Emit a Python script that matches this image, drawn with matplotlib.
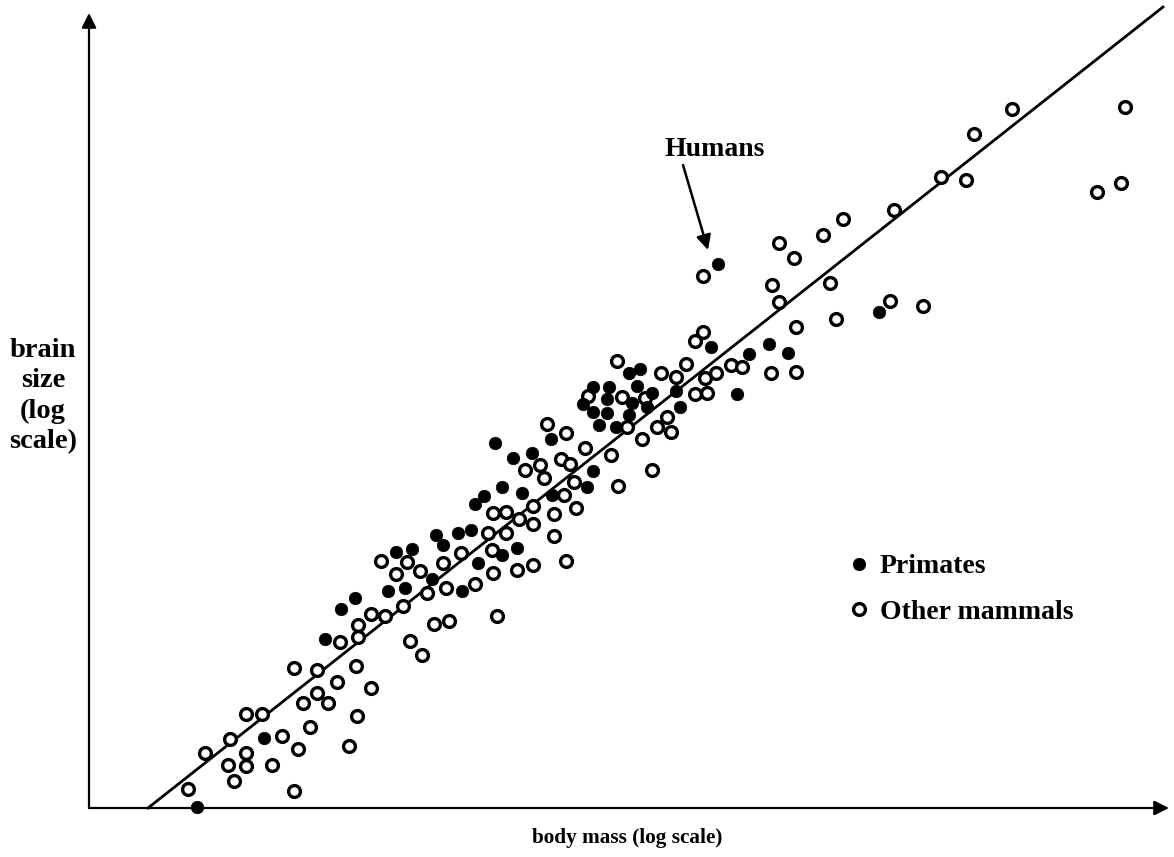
import matplotlib
matplotlib.use("Agg")
from matplotlib import pyplot as plt

plt.rcParams['font.family'] = ['Liberation Serif', 'DejaVu Serif']

# log body mass / log brain size, arbitrary units
primate_x = [1.08, 1.75, 2.36, 2.52, 2.66, 2.99, 3.16, 3.07, 3.23, 3.43, 3.47, 3.54, 3.69,
             3.82, 3.73, 3.86, 3.95, 3.89, 4.13, 4.28, 4.06, 4.13, 4.24, 4.33, 4.43, 4.62,
             4.63, 4.98, 5.04, 5.10, 4.94, 5.04, 5.04, 5.18, 5.18, 5.20, 5.27, 5.40, 5.40,
             5.43, 5.48, 5.51, 5.58, 5.63, 5.87, 5.91, 6.22, 6.29, 6.48, 6.60, 6.80, 6.99,
             7.90]
primate_y = [0.01, 0.70, 1.69, 1.99, 2.10, 2.17, 2.20, 2.56, 2.59, 2.29, 2.73, 2.63, 2.75,
             2.78, 2.17, 3.04, 3.12, 2.45, 2.53, 2.60, 3.65, 3.21, 3.50, 3.15, 3.55, 3.69,
             3.13, 3.21, 3.37, 3.83, 4.04, 4.21, 3.96, 4.09, 3.95, 4.21, 3.81, 4.35, 3.93,
             4.05, 4.22, 4.39, 4.01, 4.15, 4.17, 4.01, 4.61, 5.44, 4.14, 4.54, 4.64, 4.55,
             4.96]

other_x = [0.99, 1.16, 1.41, 1.39, 1.45, 1.57, 1.57, 1.57, 1.73, 1.83, 1.93, 2.05, 2.05,
           2.09, 2.21, 2.28, 2.28, 2.14, 2.39, 2.48, 2.60, 2.67, 2.68, 2.82, 2.51, 2.69,
           2.69, 2.82, 2.96, 3.14, 2.92, 3.18, 3.07, 3.31, 3.38, 3.21, 3.33, 3.45, 3.60,
           3.57, 3.54, 3.72, 3.86, 4.04, 4.03, 3.99, 4.17, 4.08, 4.28, 4.44, 4.77, 4.04,
           4.17, 4.30, 4.44, 4.44, 4.65, 4.65, 4.87, 4.75, 4.85, 4.36, 4.51, 4.55, 4.72,
           4.81, 4.96, 4.58, 4.77, 5.22, 5.29, 5.63, 5.53, 5.38, 5.68, 5.82, 5.78, 4.99,
           5.33, 5.56, 5.28, 5.72, 5.87, 5.97, 6.06, 6.18, 6.16, 6.27, 6.42, 6.53, 6.82,
           7.07, 6.06, 6.14, 6.14, 6.90, 7.05, 7.34, 6.83, 7.41, 6.90, 7.47, 7.07, 7.54,
           8.05, 8.01, 8.34, 8.52, 8.77, 8.85, 9.23, 10.36, 10.32, 10.08]
other_y = [0.19, 0.55, 0.69, 0.43, 0.27, 0.94, 0.55, 0.42, 0.94, 0.43, 0.72, 1.40, 0.17,
           0.59, 0.81, 1.38, 1.15, 1.05, 1.05, 1.26, 0.62, 1.42, 0.92, 1.20, 1.66, 1.83,
           1.71, 1.94, 1.92, 2.02, 2.47, 2.46, 2.34, 2.37, 2.15, 1.67, 1.53, 1.84, 1.87,
           2.20, 2.45, 2.55, 2.24, 2.35, 2.58, 2.75, 2.75, 1.92, 2.38, 2.43, 2.47, 2.95,
           2.96, 2.89, 3.02, 2.84, 2.94, 2.72, 3.00, 3.13, 3.26, 3.38, 3.43, 3.30, 3.49,
           3.44, 3.60, 3.84, 3.75, 3.53, 3.22, 3.38, 3.69, 3.81, 3.81, 3.76, 3.91, 4.12,
           4.11, 4.10, 4.47, 4.35, 4.31, 4.44, 4.14, 4.15, 4.30, 4.35, 4.43, 4.41, 4.35,
           4.36, 4.67, 4.76, 5.32, 5.65, 5.50, 5.73, 5.23, 5.25, 5.06, 4.89, 4.81, 5.89,
           5.98, 5.07, 5.02, 6.31, 6.28, 6.74, 6.99, 7.01, 6.25, 6.16]

fit_x = [0.59, 10.74]
fit_y = [0.00, 8.01]

humans_tip = (6.19, 5.58)
humans_tail = (5.94, 6.43)
humans_label = (6.26, 6.58)

fig = plt.figure(figsize=(11.74, 8.57), dpi=100)
ax = fig.add_axes([89 / 1174, 49 / 857, 1080 / 1174, 795 / 857])
ax.set_xlim(0, 10.80)
ax.set_ylim(0, 7.95)
for s in ax.spines.values():
    s.set_visible(False)
ax.set_xticks([])
ax.set_yticks([])

# axes with arrow heads
arrow = dict(arrowstyle='-|>', lw=1.6, color='black', mutation_scale=22, shrinkA=0, shrinkB=0)
ax.annotate('', xy=(10.80, 0), xytext=(0, 0), arrowprops=arrow, annotation_clip=False)
ax.annotate('', xy=(0, 7.95), xytext=(0, 0), arrowprops=arrow, annotation_clip=False)

ax.plot(fit_x, fit_y, color='black', lw=2.0, clip_on=False, zorder=2)

ax.plot(other_x, other_y, 'o', ls='none', ms=8.5, mfc='white', mec='black', mew=2.4,
        label='Other mammals', clip_on=False, zorder=3)
ax.plot(primate_x, primate_y, 'o', ls='none', ms=9, mfc='black', mec='black', mew=0.5,
        label='Primates', clip_on=False, zorder=4)

h, l = ax.get_legend_handles_labels()
ax.legend(h[::-1], l[::-1], loc='upper left', bbox_to_anchor=(837 / 1174, 1 - 540 / 857),
          bbox_transform=fig.transFigure, frameon=False, handlelength=0.6,
          handletextpad=0.45, labelspacing=0.72, borderpad=0,
          prop=dict(family='Liberation Serif', weight='bold', size=20))

ax.annotate('', xy=humans_tip, xytext=humans_tail,
            arrowprops=dict(arrowstyle='-|>', lw=1.8, color='black', mutation_scale=22,
                            shrinkA=0, shrinkB=0))
ax.text(*humans_label, 'Humans', ha='center', va='center', fontsize=20, fontweight='bold')

fig.text(43 / 1174, 1 - 396 / 857, 'brain\nsize\n(log\nscale)', ha='center', va='center',
         multialignment='center', fontsize=20.5, fontweight='bold', linespacing=1.28)
fig.text(627 / 1174, 1 - 838 / 857, 'body mass (log scale)', ha='center', va='center',
         fontsize=15.3, fontweight='bold')

fig.savefig('out.png', dpi=100)
